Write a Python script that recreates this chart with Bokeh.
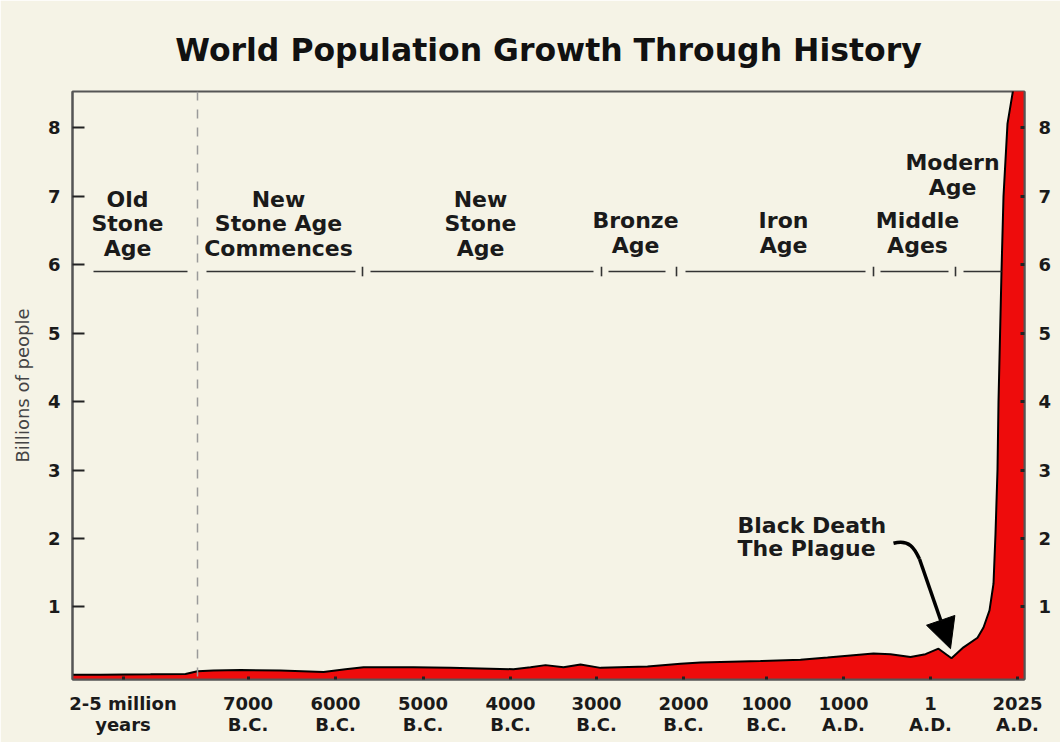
from bokeh.plotting import figure
from bokeh.models import LinearAxis, FixedTicker, Range1d, Arrow, NormalHead, Span, ColumnDataSource
from bokeh.core.properties import value
from bokeh.embed import file_html
from bokeh.resources import INLINE

# ---------------- data ----------------
# position along the (not-to-scale) timeline, and population in billions
pos = [0, 28, 78, 113, 125, 141, 168, 208, 251, 273, 291, 341, 378, 441, 458, 473,
       491, 508, 528, 575, 608, 628, 688, 728, 755, 778, 801, 818, 838, 853, 866,
       879, 891, 905, 911, 917, 921, 923, 925, 926, 929, 931, 935, 940, 944, 952]
pop = [0.01, 0.01, 0.015, 0.02, 0.06, 0.07, 0.08, 0.07, 0.05, 0.09, 0.12, 0.12, 0.11,
       0.09, 0.12, 0.15, 0.12, 0.16, 0.11, 0.13, 0.17, 0.19, 0.21, 0.23, 0.26, 0.29,
       0.32, 0.31, 0.27, 0.31, 0.39, 0.25, 0.41, 0.55, 0.70, 0.95, 1.34, 2.07, 3.0,
       4.0, 5.9, 7.0, 8.06, 8.5, 8.8, 9.0]

x_tick_pos = [50.5, 175.5, 263, 350.5, 438, 524, 611, 694, 771, 858, 945]
x_tick_labels = ["2-5 million\nyears", "7000\nB.C.", "6000\nB.C.", "5000\nB.C.",
                 "4000\nB.C.", "3000\nB.C.", "2000\nB.C.", "1000\nB.C.",
                 "1000\nA.D.", "1\nA.D.", "2025\nA.D."]
y_ticks = [1, 2, 3, 4, 5, 6, 7, 8]

era_names = ["Old\nStone\nAge", "New\nStone Age\nCommences", "New\nStone\nAge",
             "Bronze\nAge", "Iron\nAge", "Middle\nAges", "Modern\nAge"]
era_x = [55, 206, 408, 563, 711, 845, 880]
era_y = [6.60, 6.60, 6.60, 6.46, 6.46, 6.46, 7.31]

era_seg_start = [21, 134, 298, 536, 613, 808, 891]
era_seg_end = [115, 283, 521, 593, 793, 876, 929]
era_line_level = 5.9
era_tick_pos = [290, 529, 604, 801, 883]

new_stone_start = 125

plague_text = "Black Death\nThe Plague"
plague_text_pos = (665, 2.02)
plague_point = (878, 0.39)

# ---------------- styles ----------------
BG = "#F5F3E6"
RED = "#EE0C0C"
DARK = "#1a1a1a"
FRAME = "#555555"
BOLD_FONT = "DejaVu Sans"

y_lo, y_hi = -0.06, 8.53

p = figure(width=1060, height=742,
           x_range=Range1d(0, 952), y_range=Range1d(y_lo, y_hi),
           output_backend="svg", toolbar_location=None,
           min_border_left=72, min_border_right=36,
           min_border_top=91, min_border_bottom=63,
           background_fill_color=BG, border_fill_color=BG,
           outline_line_color=FRAME, outline_line_width=2)
p.grid.visible = False

p.title.text = "World Population Growth Through History"
p.title.align = "center"
p.title.text_font = BOLD_FONT
p.title.text_font_style = "bold"
p.title.text_font_size = "31.5px"
p.title.text_color = "#111111"
p.title.standoff = 48

# area
src = ColumnDataSource(dict(x=pos, y=pop, base=[y_lo] * len(pos)))
p.varea(x="x", y1="base", y2="y", source=src, fill_color=RED)
p.line(x="x", y="y", source=src, line_color="black", line_width=2)

# dashed divider
p.add_layout(Span(location=new_stone_start, dimension="height",
                  line_color="#9a9a9a", line_width=1.5, line_dash="9 9"))

# era lines and ticks
p.segment(x0=era_seg_start, x1=era_seg_end, y0=[era_line_level] * len(era_seg_start),
          y1=[era_line_level] * len(era_seg_start), line_color="#333333", line_width=1.6)
p.segment(x0=era_tick_pos, x1=era_tick_pos, y0=[era_line_level - 0.07] * len(era_tick_pos),
          y1=[era_line_level + 0.07] * len(era_tick_pos), line_color="#333333", line_width=1.6)

# era labels
p.text(x=era_x, y=era_y, text=era_names, text_align="center", text_baseline="middle",
       text_font=value(BOLD_FONT), text_font_style="bold", text_font_size="22px",
       text_color=DARK, text_line_height=0.98)

# plague annotation
p.text(x=[plague_text_pos[0]], y=[plague_text_pos[1]], text=[plague_text],
       text_align="left", text_baseline="middle",
       text_font=value(BOLD_FONT), text_font_style="bold", text_font_size="22px",
       text_color=DARK, text_line_height=0.95)
p.bezier(x0=[821], y0=[1.93], cx0=[837], cy0=[1.99], cx1=[842], cy1=[1.86],
         x1=[847], y1=[1.70], line_color="black", line_width=3.5)
p.add_layout(Arrow(end=NormalHead(size=30, fill_color="black", line_color="black"),
                   x_start=847, y_start=1.70, x_end=plague_point[0], y_end=plague_point[1],
                   line_color="black", line_width=3.5))

# axes
def style_y(ax, tick_in):
    ax.ticker = FixedTicker(ticks=y_ticks)
    ax.major_tick_in = tick_in
    ax.major_tick_out = 0
    ax.minor_tick_in = 0
    ax.minor_tick_out = 0
    ax.major_tick_line_color = "#222222"
    ax.major_tick_line_width = 2
    ax.axis_line_color = FRAME
    ax.axis_line_width = 2
    ax.major_label_text_font = BOLD_FONT
    ax.major_label_text_font_style = "bold"
    ax.major_label_text_font_size = "18px"
    ax.major_label_text_color = DARK

yl = p.yaxis[0]
style_y(yl, 12)
yl.major_label_standoff = 12
yl.axis_label = "Billions of people"
yl.axis_label_text_font = "DejaVu Sans"
yl.axis_label_text_font_style = "normal"
yl.axis_label_text_font_size = "18px"
yl.axis_label_text_color = "#444444"
yl.axis_label_standoff = 12

yr = LinearAxis()
style_y(yr, 4)
yr.major_tick_line_width = 3
yr.major_label_standoff = 14
p.add_layout(yr, "right")

xa = p.xaxis[0]
xa.ticker = FixedTicker(ticks=x_tick_pos)
xa.major_label_overrides = {t: l for t, l in zip(x_tick_pos, x_tick_labels)}
xa.major_tick_in = 3
xa.major_tick_out = 0
xa.minor_tick_in = 0
xa.minor_tick_out = 0
xa.major_tick_line_color = "#222222"
xa.major_tick_line_width = 3
xa.axis_line_color = FRAME
xa.axis_line_width = 2
xa.major_label_standoff = 13
xa.major_label_text_font = BOLD_FONT
xa.major_label_text_font_style = "bold"
xa.major_label_text_font_size = "18px"
xa.major_label_text_color = DARK
xa.major_label_text_line_height = 1.0

open("out.html", "w").write(file_html(p, INLINE))
